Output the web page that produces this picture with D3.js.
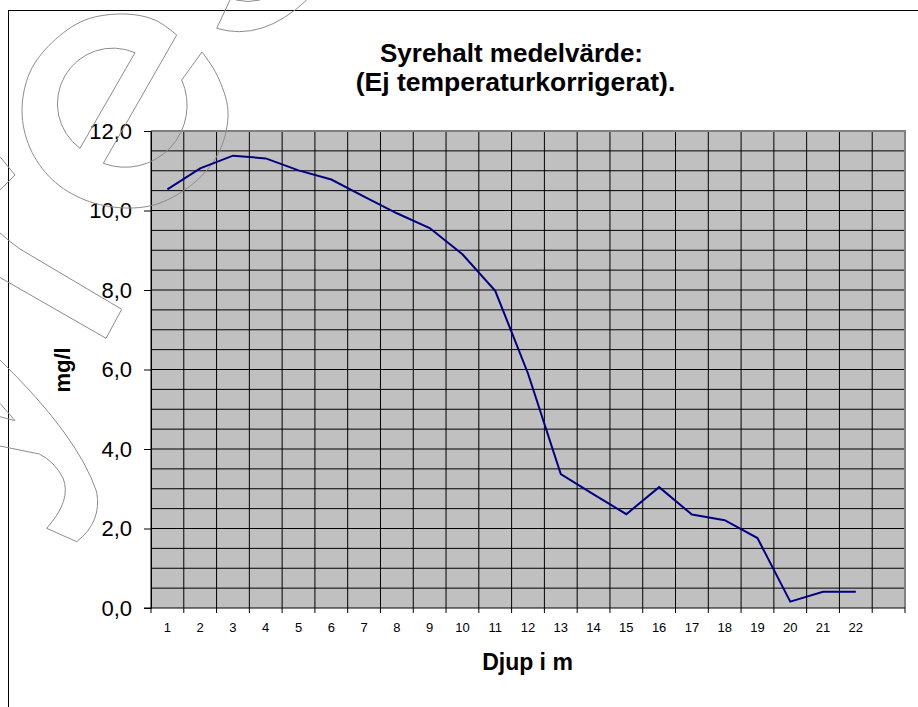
<!DOCTYPE html>
<html>
<head>
	<meta charset="utf-8">
	<title>Syrehalt medelvärde</title>
	<script src="https://d3js.org/d3.v7.min.js"></script>
	<style>
		body { margin: 0; background: #fff; }
		svg { display: block; font-family: "Liberation Sans", Arial, sans-serif; }
	</style>
</head>
<body>
	<div id="chart"></div>
	<script type="text/javascript">
		// data .............................................
		var categories = ['1', '2', '3', '4', '5', '6', '7', '8', '9', '10', '11',
			'12', '13', '14', '15', '16', '17', '18', '19', '20', '21', '22', ''];
		var oxygen = [10.53, 11.06, 11.38, 11.31, 11.01, 10.78, 10.35, 9.93, 9.56, 8.9, 7.98,
			5.9, 3.37, 2.86, 2.36, 3.04, 2.35, 2.21, 1.76, 0.16, 0.41, 0.41];
		var yTicks = [0, 2, 4, 6, 8, 10, 12];
		var gridStep = 0.5;
		var titleLines = ['Syrehalt medelvärde:', '(Ej temperaturkorrigerat).'];

		var width = 918, height = 707;
		var plot = { left: 151, right: 905, top: 131, bottom: 608 };

		var svg = d3.select('#chart').append('svg')
			.attr('width', width)
			.attr('height', height);

		// frame
		svg.append('rect')
			.attr('x', 8.5).attr('y', 10.5)
			.attr('width', 1000).attr('height', 1000)
			.style('fill', '#fff')
			.style('stroke', '#000')
			.style('stroke-width', 1);

		// scales
		var xScale = d3.scaleBand()
			.domain(categories)
			.range([plot.left, plot.right]);

		var yScale = d3.scaleLinear()
			.domain([0, d3.max(yTicks)])
			.range([plot.bottom, plot.top]);

		// plot area
		svg.append('rect')
			.attr('x', plot.left).attr('y', plot.top)
			.attr('width', plot.right - plot.left)
			.attr('height', plot.bottom - plot.top)
			.style('fill', '#c0c0c0');

		// grid
		var hGrid = d3.range(gridStep, d3.max(yTicks) + gridStep / 2, gridStep);
		svg.append('g').attr('class', 'hgrid')
			.selectAll('line')
			.data(hGrid)
			.enter().append('line')
			.attr('x1', plot.left).attr('x2', plot.right)
			.attr('y1', d => yScale(d)).attr('y2', d => yScale(d))
			.style('stroke', '#000').style('stroke-width', 1);

		svg.append('g').attr('class', 'vgrid')
			.selectAll('line')
			.data(categories.slice(1))
			.enter().append('line')
			.attr('x1', d => xScale(d)).attr('x2', d => xScale(d))
			.attr('y1', plot.top).attr('y2', plot.bottom)
			.style('stroke', '#000').style('stroke-width', 1);

		// plot border (top + right grey)
		svg.append('path')
			.attr('d', 'M' + plot.left + ',' + plot.top + 'H' + plot.right + 'V' + plot.bottom)
			.style('fill', 'none')
			.style('stroke', '#808080')
			.style('stroke-width', 2);

		// y axis
		var yAxis = d3.axisLeft(yScale)
			.tickValues(yTicks)
			.tickSize(7)
			.tickSizeOuter(0)
			.tickPadding(12)
			.tickFormat(d => d3.format('.1f')(d).replace('.', ','));

		var yGuide = svg.append('g')
			.attr('id', 'y-axis')
			.attr('transform', 'translate(' + plot.left + ',0)')
			.call(yAxis);
		yGuide.selectAll('text')
			.style('font-size', '22px')
			.style('font-family', '"Liberation Sans", Arial, sans-serif')
			.style('fill', '#000');
		yGuide.select('.domain').style('stroke', '#000');

		// x axis (ticks on category boundaries, labels centred)
		var xGuide = svg.append('g').attr('id', 'x-axis');
		xGuide.append('line')
			.attr('x1', plot.left - 7).attr('x2', plot.right)
			.attr('y1', plot.bottom).attr('y2', plot.bottom)
			.style('stroke', '#000');
		xGuide.selectAll('.xtick')
			.data(categories.concat(['end']))
			.enter().append('line')
			.attr('class', 'xtick')
			.attr('x1', (d, i) => i < categories.length ? xScale(d) : plot.right)
			.attr('x2', (d, i) => i < categories.length ? xScale(d) : plot.right)
			.attr('y1', plot.bottom).attr('y2', plot.bottom + 5)
			.style('stroke', '#000');
		xGuide.selectAll('.xlabel')
			.data(categories)
			.enter().append('text')
			.attr('class', 'xlabel')
			.attr('x', d => xScale(d) + xScale.bandwidth() / 2)
			.attr('y', plot.bottom + 24)
			.attr('text-anchor', 'middle')
			.style('font-size', '13px')
			.text(d => d);

		// left axis line
		svg.append('line')
			.attr('x1', plot.left).attr('x2', plot.left)
			.attr('y1', plot.top).attr('y2', plot.bottom)
			.style('stroke', '#000');

		// watermark outline (decoration only)
		var wm = svg.append('g').attr('class', 'watermark')
			.style('fill', 'none')
			.style('stroke', '#8c8c8c')
			.style('stroke-width', 1);
		wm.append('path').attr('d', 'M230,0 L216.7,28.3 Q262,42 306.7,0');
		wm.append('path').attr('d', 'M236,0 Q248,3 260,0');
		var outerRim = d3.line().curve(d3.curveCatmullRom)([
			[202, 52], [217, 75], [228, 111], [220, 150], [197.8, 179.6], [160, 203], [125, 208],
			[85, 200], [52.2, 179.6], [30, 148], [22, 111], [30, 72], [52.2, 42.4], [85, 20],
			[125, 14], [155, 20], [176.7, 35]]);
		wm.append('path').attr('d', 'M176.7,35 L103.3,163.3 A62,62 0 0 0 181.7,80 L202,52 ' +
			outerRim.replace(/^M[^LC]*/, '') + ' Z');
		wm.append('path').attr('d', 'M135,52.7 A55.5,55.5 0 0 0 80,148.3 Z');
		wm.append('path').attr('d', 'M0,156.7 L15,175 L0,190');
		wm.append('path').attr('d', 'M0,233 Q10,242 20,249 L121.7,309.3 L106,338.3 L0,277.5');
		wm.append('path').attr('d', 'M0,403.3 L15,420.7 L0,416.7');
		wm.append('path').attr('d', 'M0,360 Q78,436 96.7,492 Q102,522 76.7,541.7 L46.7,528.3 Q72,500 63,478 Q55,462 39.3,454 L0,446');

		// data line
		var line = d3.line()
			.x((d, i) => xScale(categories[i]) + xScale.bandwidth() / 2)
			.y(d => yScale(d));

		svg.append('path')
			.datum(oxygen)
			.attr('d', line)
			.style('fill', 'none')
			.style('stroke', '#000080')
			.style('stroke-width', 2);

		// titles
		svg.append('text')
			.attr('x', 511.5).attr('y', 62)
			.attr('text-anchor', 'middle')
			.style('font-size', '26px').style('font-weight', 'bold')
			.text(titleLines[0]);
		svg.append('text')
			.attr('x', 515.5).attr('y', 90.5)
			.attr('text-anchor', 'middle')
			.style('font-size', '26.5px').style('font-weight', 'bold')
			.text(titleLines[1]);

		svg.append('text')
			.attr('x', 527.5).attr('y', 670)
			.attr('text-anchor', 'middle')
			.style('font-size', '23px').style('font-weight', 'bold')
			.text('Djup i m');

		svg.append('text')
			.attr('transform', 'translate(70,370) rotate(-90)')
			.attr('text-anchor', 'middle')
			.style('font-size', '22px').style('font-weight', 'bold')
			.text('mg/l');
	</script>
</body>
</html>
